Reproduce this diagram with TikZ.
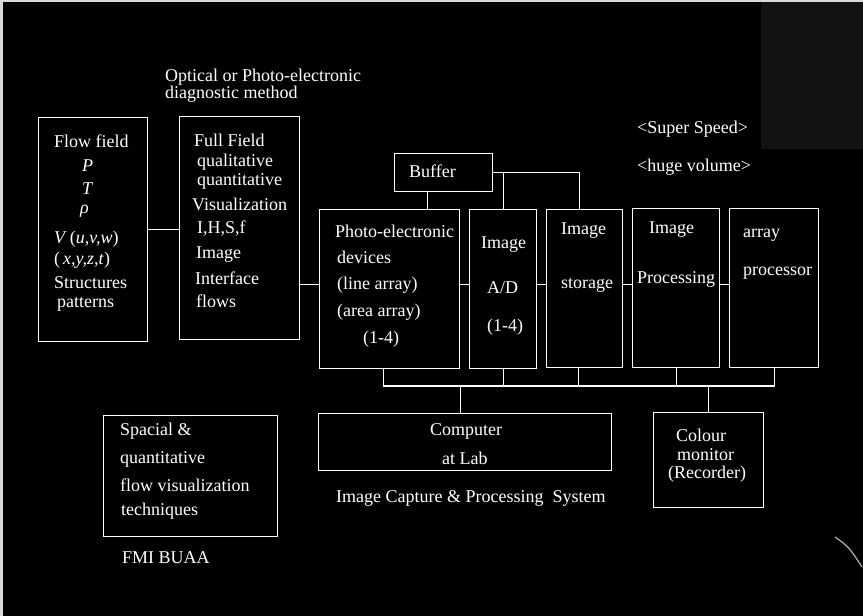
\documentclass[tikz,border=0pt]{standalone}
\usepackage{fontspec}
\setmainfont{Liberation Serif}
\begin{document}
\begin{tikzpicture}[x=1pt,y=-1pt,
  box/.style={draw=white, line width=1.4pt, inner sep=0pt, anchor=north west},
  lab/.style={text=white, inner sep=0pt, anchor=base west, font=\fontsize{18}{18}\selectfont},
  wire/.style={draw=white, line width=1.4pt}]
\useasboundingbox (0,0) rectangle (863,616);
\fill[white!85!black] (0,0) rectangle (863,616);
\fill[black] (3,2) rectangle (863,616);
\fill[black!93!white] (761,2) rectangle (863,149);
\draw[gray!70, line width=1.3pt] (835,537) .. controls (849,547) .. (862,567);

% boxes
\node[box, minimum width=109, minimum height=224] (ff) at (38,117) {};
\node[box, minimum width=120, minimum height=223] (full) at (179,116) {};
\node[box, minimum width=98, minimum height=38] (buf) at (394,153) {};
\node[box, minimum width=140, minimum height=159] (photo) at (319,209) {};
\node[box, minimum width=67, minimum height=159] (ad) at (469,209) {};
\node[box, minimum width=76, minimum height=158] (st) at (546,209) {};
\node[box, minimum width=87, minimum height=159] (proc) at (632,208) {};
\node[box, minimum width=89, minimum height=159] (arr) at (729,208) {};
\node[box, minimum width=293, minimum height=57] (comp) at (318,413) {};
\node[box, minimum width=110, minimum height=95] (mon) at (653,412) {};
\node[box, minimum width=174, minimum height=121] (spac) at (103,415) {};

% connectors
\draw[wire] (ff.east) -- (ff.east -| full.west);
\coordinate (hy) at ([yshift=4.5pt]photo.west);
\draw[wire] (full.east |- hy) -- (hy);
\draw[wire] (photo.east |- hy) -- (ad.west |- hy);
\draw[wire] (ad.east |- hy) -- (st.west |- hy);
\draw[wire] (st.east |- hy) -- (proc.west |- hy);
\draw[wire] (proc.east |- hy) -- (arr.west |- hy);
\draw[wire] ([xshift=-16pt]buf.south) -- ([xshift=-16pt]buf.south |- photo.north);
\draw[wire] (buf.east) -| ([xshift=-5pt]st.north);
\draw[wire] (ad.north) -- (ad.north |- buf.east);
\coordinate (busy) at (0,386);
\draw[wire] ([xshift=-6pt]photo.south) -- ([xshift=-6pt]photo.south |- busy) -- (arr.south |- busy) -- (arr.south);
\draw[wire] (ad.south) -- (ad.south |- busy);
\draw[wire] ([xshift=-6pt]st.south) -- ([xshift=-6pt]st.south |- busy);
\draw[wire] (proc.south) -- (proc.south |- busy);
\draw[wire] ([xshift=-5pt]comp.north) -- ([xshift=-5pt]comp.north |- busy);
\draw[wire] (mon.north) -- (mon.north |- busy);

% texts
\node[lab] (o1) at (165,81) {Optical or Photo-electronic};
\node[lab] (o2) at (165,98) {diagnostic method};

\node[lab] (f1) at (54,147) {Flow field};
\node[lab] (f2) at (82,171) {\textit{P}};
\node[lab] (f3) at (82,194) {\textit{T}};
\node[lab] (f4) at (80,213) {\textit{ρ}};
\node[lab] (f5) at (54,243) {\textit{V}\,(\textit{u,v,w})};
\node[lab] (f6) at (54,264) {(\,\textit{x,y,z,t})};
\node[lab] (f7) at (54,288) {Structures};
\node[lab] (f8) at (57,307) {patterns};

\node[lab] (g1) at (194,146) {Full Field};
\node[lab] (g2) at (197,166) {qualitative};
\node[lab] (g3) at (197,185) {quantitative};
\node[lab] (g4) at (192,210) {Visualization};
\node[lab] (g5) at (197,233) {I,H,S,f};
\node[lab] (g6) at (196,258) {Image};
\node[lab] (g7) at (195,284) {Interface};
\node[lab] (g8) at (196,307) {flows};

\node[lab] (b1) at (409,177) {Buffer};

\node[lab] (p1) at (335,237) {Photo-electronic};
\node[lab] (p2) at (337,263) {devices};
\node[lab] (p3) at (337,289) {(line array)};
\node[lab] (p4) at (337,316) {(area array)};
\node[lab] (p5) at (363,343) {(1-4)};

\node[lab] (a1) at (481,248) {Image};
\node[lab] (a2) at (487,293) {A/D};
\node[lab] (a3) at (487,331) {(1-4)};

\node[lab] (s1) at (561,234) {Image};
\node[lab] (s2) at (561,288) {storage};

\node[lab] (q1) at (649,233) {Image};
\node[lab] (q2) at (637,283) {Processing};

\node[lab] (r1) at (743,237) {array};
\node[lab] (r2) at (743,275) {processor};

\node[lab] (ss) at (637,133) {<Super Speed>};
\node[lab] (hv) at (637,171) {<huge volume>};

\node[lab] (c1) at (430,435) {Computer};
\node[lab] (c2) at (442,464) {at Lab};
\node[lab] (ic) at (336,502) {Image Capture \& Processing\ \ System};

\node[lab] (m1) at (676,441) {Colour};
\node[lab] (m2) at (677,460) {monitor};
\node[lab] (m3) at (668,478) {(Recorder)};

\node[lab] (sp1) at (120,435) {Spacial \&};
\node[lab] (sp2) at (120,463) {quantitative};
\node[lab] (sp3) at (120,491) {flow visualization};
\node[lab] (sp4) at (121,515) {techniques};
\node[lab] (fmi) at (122,563) {FMI BUAA};
\end{tikzpicture}
\end{document}
